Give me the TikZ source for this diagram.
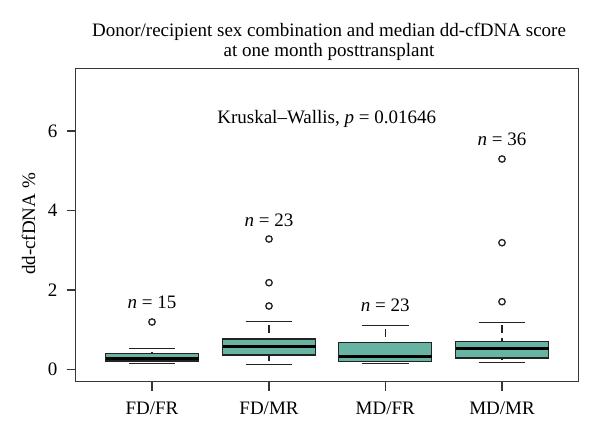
\documentclass[tikz,border=0pt]{standalone}
\usepackage{fontspec}
\setmainfont{Liberation Serif}
\definecolor{boxteal}{RGB}{104,180,162}
\definecolor{framegray}{RGB}{55,55,55}
\definecolor{inkgray}{RGB}{35,35,35}
\tikzset{
  lbl/.style={font=\fontsize{19bp}{22bp}\selectfont, inner sep=0pt, text=black},
  framest/.style={draw=framegray, line width=1.4bp},
  tickst/.style={draw=framegray, line width=1.3bp},
  boxst/.style={fill=boxteal, draw=inkgray, line width=1.3bp},
  medst/.style={draw=black, line width=3bp},
  capst/.style={draw=inkgray, line width=1.3bp},
  whisk/.style={draw=inkgray, line width=1.3bp, dash pattern=on 8bp off 5bp, dash phase=10bp},
  outl/.style={draw=inkgray, line width=1.3bp, fill=white}
}
\newcommand{\plotbox}[6]{%
  \draw[whisk] (#1,#2) -- (#1,#3);
  \draw[whisk] (#1,#6) -- (#1,#5);
  \draw[capst] (#1-23.3,#2) -- (#1+23.3,#2);
  \draw[capst] (#1-23.3,#6) -- (#1+23.3,#6);
  \filldraw[boxst] (#1-46.5,#3) rectangle (#1+46.5,#5);
  \draw[medst] (#1-46.5,#4) -- (#1+46.5,#4);
}
\begin{document}
\begin{tikzpicture}[x=1bp,y=-1bp]
\useasboundingbox[fill=white] (0,0) rectangle (600,436);
% title
\node[lbl, anchor=base] (title1) at (329,36.7) {Donor/recipient sex combination and median dd-cfDNA score};
\node[lbl, anchor=base] (title2) at (329,56.7) {at one month posttransplant};
% frame
\draw[framest] (75.7,68.3) rectangle (578.3,381.7);
% y ticks
\foreach \v/\py in {0/369.3,2/290,4/210.7,6/131}{
  \draw[tickst] (66.5,\py) -- (75.7,\py);
  \node[lbl, anchor=east] (ytick\v) at (57.5,\py) {\v};
}
\node[lbl, rotate=90, anchor=base] (ylabel) at (35,224) {dd-cfDNA \%};
% x ticks
\foreach \nm/\px/\t in {a/152/FD\slash FR, b/269/FD\slash MR, c/385.3/MD\slash FR, d/502/MD\slash MR}{
  \draw[tickst] (\px,381.7) -- (\px,390.5);
  \node[lbl, anchor=base] (xtick\nm) at (\px,414) {\t};
}
% boxes: x, upper cap, q3, median, q1, lower cap
\plotbox{152}{348.7}{353.7}{358.6}{361}{363.7}
\plotbox{269}{321.8}{339}{346}{355}{364.3}
\plotbox{385.3}{325.7}{342.3}{356.9}{361.2}{363.5}
\plotbox{502}{322.2}{341.2}{348.5}{358.1}{362.7}
% outliers
\foreach \px/\py in {152/322, 269/306, 269/282.7, 269/239, 502/301.7, 502/242.7, 502/159}{
  \draw[outl] (\px,\py) circle[radius=3.2bp];
}
% counts
\node[lbl] (n1) at (152,302.3) {\textit{n} = 15};
\node[lbl] (n2) at (269,220) {\textit{n} = 23};
\node[lbl] (n3) at (385.3,305.5) {\textit{n} = 23};
\node[lbl] (n4) at (502,139.3) {\textit{n} = 36};
\node[lbl, anchor=base] (kw) at (326.7,124) {Kruskal--Wallis, \textit{p} = 0.01646};
\end{tikzpicture}
\end{document}
